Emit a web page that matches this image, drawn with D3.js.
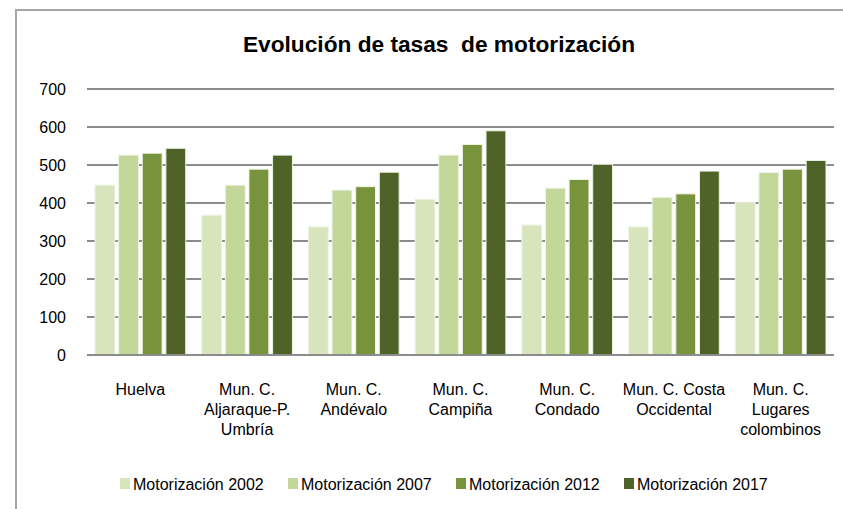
<!DOCTYPE html>
<html>
<head>
<meta charset="utf-8">
<script src="https://cdn.jsdelivr.net/npm/d3@7"></script>
<style>
  body { margin: 0; background: #fff; }
  svg text { font-family: "Liberation Sans Narrow", "Arial Narrow", "Liberation Sans", Arial, sans-serif; fill: #000; }
</style>
</head>
<body>
<svg id="chart" width="843" height="509"></svg>
<script>
// Chart data
const categories = [
  ["Huelva"],
  ["Mun. C.", "Aljaraque-P.", "Umbría"],
  ["Mun. C.", "Andévalo"],
  ["Mun. C.", "Campiña"],
  ["Mun. C.", "Condado"],
  ["Mun. C. Costa", "Occidental"],
  ["Mun. C.", "Lugares", "colombinos"]
];
const seriesNames = ["Motorización 2002", "Motorización 2007", "Motorización 2012", "Motorización 2017"];
const seriesColors = ["#d8e4bc", "#c4d79b", "#77933c", "#4f6228"];
const moto2002 = [447, 368, 337, 410, 342, 337, 402];
const moto2007 = [526, 447, 434, 526, 439, 415, 480];
const moto2012 = [531, 489, 443, 554, 462, 424, 489];
const moto2017 = [544, 526, 481, 590, 502, 484, 512];
const yTicks = [0, 100, 200, 300, 400, 500, 600, 700];

const seriesValues = [moto2002, moto2007, moto2012, moto2017];

const svg = d3.select("#chart");

// Outer chart border
svg.append("rect")
  .attr("x", 16).attr("y", 10)
  .attr("width", 840).attr("height", 510)
  .attr("fill", "none")
  .attr("stroke", "#a6a6a6")
  .attr("stroke-width", 2);

// Title
svg.append("text")
  .attr("x", 439).attr("y", 52)
  .attr("text-anchor", "middle")
  .style("font-size", "22.7px")
  .style("font-weight", "bold")
  .style("white-space", "pre")
  .attr("xml:space", "preserve")
  .text("Evolución de tasas  de motorización");

// Scales
const x0 = d3.scaleBand()
  .domain(d3.range(categories.length))
  .range([87, 834])
  .paddingInner(0.15)
  .paddingOuter(0.075);

const x1 = d3.scaleBand()
  .domain(d3.range(seriesNames.length))
  .range([0, x0.bandwidth()])
  .paddingInner(0.16);

const y = d3.scaleLinear().domain([0, 700]).range([355, 89]);

// Gridlines
svg.append("g")
  .selectAll("line")
  .data(yTicks.slice(1))
  .join("line")
  .attr("x1", 87).attr("x2", 834)
  .attr("y1", d => y(d)).attr("y2", d => y(d))
  .attr("stroke", "#8c8c8c")
  .attr("stroke-width", 2);

// Y tick labels
svg.append("g")
  .selectAll("text")
  .data(yTicks)
  .join("text")
  .attr("x", 66)
  .attr("y", d => y(d) + 6)
  .attr("text-anchor", "end")
  .style("font-size", "16px")
  .text(d => d);

// Bars
const groups = svg.append("g")
  .selectAll("g")
  .data(categories.map((c, i) => i))
  .join("g")
  .attr("transform", i => `translate(${x0(i)},0)`);

groups.selectAll("rect")
  .data(i => seriesValues.map((vals, s) => ({ s, v: vals[i] })))
  .join("rect")
  .attr("x", d => x1(d.s))
  .attr("width", x1.bandwidth())
  .attr("y", d => y(d.v))
  .attr("height", d => y(0) - y(d.v))
  .attr("fill", d => seriesColors[d.s])
  .attr("stroke", "#eef3e4")
  .attr("stroke-width", 1);

// Baseline
svg.append("line")
  .attr("x1", 87).attr("x2", 834)
  .attr("y1", y(0)).attr("y2", y(0))
  .attr("stroke", "#8c8c8c")
  .attr("stroke-width", 2);

// Category labels (multi-line)
const catLabels = svg.append("g")
  .selectAll("text")
  .data(categories)
  .join("text")
  .attr("text-anchor", "middle")
  .style("font-size", "16px")
  .attr("transform", (d, i) => `translate(${x0(i) + x0.bandwidth() / 2},395)`);

catLabels.selectAll("tspan")
  .data(d => d)
  .join("tspan")
  .attr("x", 0)
  .attr("y", (d, k) => k * 20)
  .text(d => d);

// Legend
const legend = svg.append("g")
  .selectAll("g")
  .data(seriesNames)
  .join("g")
  .attr("transform", (d, i) => `translate(${120 + i * 168},478)`);

legend.append("rect")
  .attr("width", 10).attr("height", 11)
  .attr("fill", (d, i) => seriesColors[i]);

legend.append("text")
  .attr("x", 13).attr("y", 12)
  .style("font-size", "16px")
  .text(d => d);
</script>
</body>
</html>
